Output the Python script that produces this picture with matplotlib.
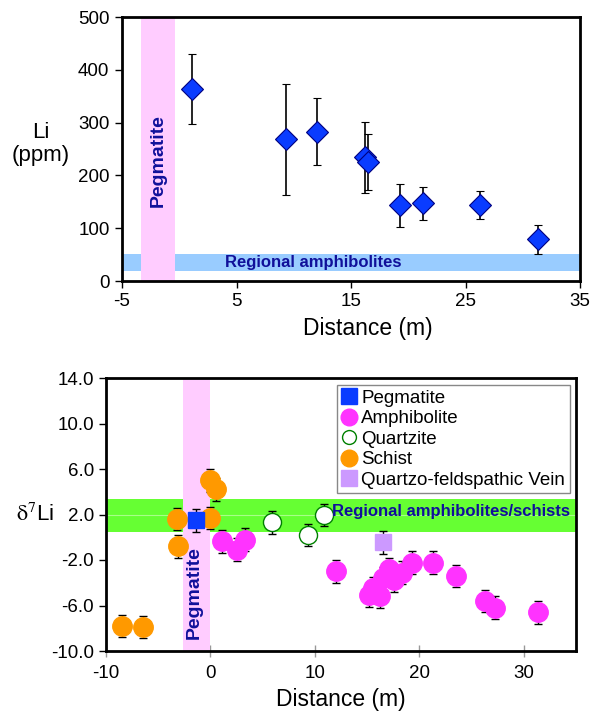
import matplotlib
matplotlib.use("Agg")
import matplotlib.pyplot as plt

plt.rcParams['font.family'] = ['Liberation Sans', 'DejaVu Sans']
plt.rcParams['mathtext.fontset'] = 'stix'
plt.rcParams['axes.unicode_minus'] = False

# --- top panel: Li concentration vs distance ---
li_dist = [1.1, 9.3, 12.05, 16.2, 16.5, 19.25, 21.3, 26.3, 31.3]
li_ppm = [363, 268, 283, 234, 226, 143, 148, 144, 80]
li_err_hi = [66, 106, 64, 67, 53, 40, 30, 26, 27]
li_err_lo = [66, 106, 64, 67, 54, 41, 33, 26, 28]

# --- bottom panel: d7Li vs distance, by rock type ---
peg_x = [-1.4]
peg_y = [1.5]
amph_x = [1.1, 2.55, 3.3, 12.0, 15.15, 15.6, 16.2, 16.5, 17.1, 17.6, 18.3, 19.3,
          21.35, 23.5, 26.3, 27.2, 31.4]
amph_y = [-0.35, -1.1, -0.2, -3.0, -5.1, -4.5, -5.2, -3.6, -2.8, -3.8, -3.1, -2.25,
          -2.25, -3.4, -5.6, -6.2, -6.6]
qtz_x = [5.9, 9.3, 10.85]
qtz_y = [1.3, 0.2, 1.95]
schist_x = [-8.5, -6.5, -3.2, -3.1, 0.0, 0.55, 0.0]
schist_y = [-7.8, -7.9, 1.6, -0.8, 5.0, 4.2, 1.7]
vein_x = [16.5]
vein_y = [-0.45]
d7_err = 1.0

navy = '#10109A'

fig = plt.figure(figsize=(5.98, 7.11), dpi=100)

# top chart
ax1 = fig.add_axes([122/598, 1-281/711, 458/598, 264/711])
ax1.axhspan(19.5, 51, color='#99CCFF', lw=0, zorder=1)
ax1.axvspan(-3.37, -0.4, color='#FFCCFF', lw=0, zorder=2)
ax1.errorbar(li_dist, li_ppm, yerr=[li_err_lo, li_err_hi], fmt='D', ms=11,
             mfc='#0A3CFF', mec='#000080', mew=0.8, ecolor='black', elinewidth=1.2,
             capsize=3, capthick=1.2, zorder=5)
ax1.text(4.0, 35, 'Regional amphibolites', color=navy, fontsize=12, fontweight='bold',
         ha='left', va='center', zorder=6)
ax1.text(-1.86, 229, 'Pegmatite', color=navy, fontsize=14, fontweight='bold',
         rotation=90, ha='center', va='center', zorder=6)
ax1.set_xlim(-5, 35)
ax1.set_ylim(0, 500)
ax1.set_xticks([-5, 5, 15, 25, 35])
ax1.set_yticks([0, 100, 200, 300, 400, 500])
ax1.tick_params(direction='out', length=5, width=1, labelsize=13.5, pad=4)
for s in ax1.spines.values():
    s.set_linewidth(2)
ax1.set_xlabel('Distance (m)', fontsize=16.5)
ax1.xaxis.set_label_coords(0.537, -0.135)
ax1.text(-0.178, 0.52, 'Li\n(ppm)', transform=ax1.transAxes, fontsize=16,
         ha='center', va='center', linespacing=1.1)

# bottom chart
ax2 = fig.add_axes([106/598, 1-651/711, 470/598, 273/711])
ax2.axhspan(0.5, 3.35, color='#66FF33', lw=0, zorder=1)
ax2.axhline(2.0, color='#A8FF88', lw=0.8, zorder=1.5)
ax2.axvspan(-2.66, 0.0, color='#FFCCFF', lw=0, zorder=2)

ax2.errorbar(schist_x, schist_y, yerr=d7_err, fmt='o', ms=14, mfc='#FF9900',
             mec='#FF9900', ecolor='black', elinewidth=1, capsize=3, zorder=4)
ax2.errorbar(amph_x, amph_y, yerr=d7_err, fmt='o', ms=14, mfc='#FF33FF',
             mec='#FF33FF', ecolor='black', elinewidth=1, capsize=3, zorder=4)
ax2.errorbar(qtz_x, qtz_y, yerr=d7_err, fmt='o', ms=13, mfc='white',
             mec='#008000', mew=1, ecolor='black', elinewidth=1, capsize=3, zorder=4)
ax2.errorbar(peg_x, peg_y, yerr=d7_err, fmt='s', ms=11, mfc='#0A3CFF',
             mec='#0A3CFF', ecolor='black', elinewidth=1, capsize=3, zorder=4)
ax2.errorbar(vein_x, vein_y, yerr=d7_err, fmt='s', ms=11, mfc='#CC99FF',
             mec='#CC99FF', ecolor='black', elinewidth=1, capsize=3, zorder=4)

ax2.text(11.6, 2.25, 'Regional amphibolites/schists', color=navy, fontsize=12,
         fontweight='bold', ha='left', va='center', zorder=6)
ax2.text(-1.55, -4.87, 'Pegmatite', color=navy, fontsize=14, fontweight='bold',
         rotation=90, ha='center', va='center', zorder=6)

h = [
    plt.Line2D([], [], ls='none', marker='s', ms=11, mfc='#0A3CFF', mec='#0A3CFF'),
    plt.Line2D([], [], ls='none', marker='o', ms=12, mfc='#FF33FF', mec='#FF33FF'),
    plt.Line2D([], [], ls='none', marker='o', ms=10, mfc='white', mec='#008000'),
    plt.Line2D([], [], ls='none', marker='o', ms=12, mfc='#FF9900', mec='#FF9900'),
    plt.Line2D([], [], ls='none', marker='s', ms=11, mfc='#CC99FF', mec='#CC99FF'),
]
labels = ['Pegmatite', 'Amphibolite', 'Quartzite', 'Schist', 'Quartzo-feldspathic Vein']
leg = ax2.legend(h, labels, loc='upper right', bbox_to_anchor=(0.987, 0.975),
                 fontsize=13.5, frameon=True, fancybox=False, framealpha=1,
                 edgecolor='#888888', handlelength=0.8, handletextpad=0.25,
                 labelspacing=0.18, borderpad=0.25, borderaxespad=0)
leg.get_frame().set_linewidth(1)
leg.set_zorder(7)

ax2.set_xlim(-10, 35)
ax2.set_ylim(-10, 14)
ax2.set_xticks([-10, 0, 10, 20, 30])
ax2.set_yticks([-10, -6, -2, 2, 6, 10, 14])
ax2.set_yticklabels(['%.1f' % v for v in [-10, -6, -2, 2, 6, 10, 14]])
ax2.tick_params(axis='y', direction='out', length=5, width=1, labelsize=13.5)
ax2.tick_params(axis='x', direction='inout', length=8, width=1, color='#999999',
                labelsize=13.5, pad=6)
for s in ax2.spines.values():
    s.set_linewidth(2)
ax2.set_xlabel('Distance (m)', fontsize=16.5, labelpad=0)
ax2.xaxis.set_label_coords(0.5, -0.135)
ax2.text(-0.15, 2.0, r'$\mathrm{\delta}^{7}$Li', transform=ax2.get_yaxis_transform(),
         fontsize=16, ha='center', va='center')

fig.savefig('out.png', dpi=100)
